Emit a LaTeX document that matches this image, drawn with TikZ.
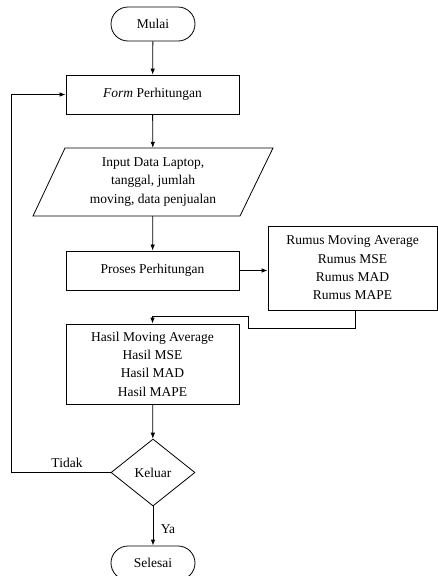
\documentclass[tikz,border=0pt]{standalone}
\usepackage{fontspec}
\setmainfont{Liberation Serif}
\usetikzlibrary{shapes.geometric,arrows.meta}
\begin{document}
\begin{tikzpicture}[x=1pt,y=-1pt,
  every node/.style={font=\fontsize{13.5}{18.3}\selectfont, inner sep=0pt, align=center},
  box/.style={draw, line width=0.8pt, minimum width=173pt},
  term/.style={draw, line width=0.8pt, rounded corners=17pt, minimum width=84pt, minimum height=34pt},
  conn/.style={line width=0.8pt, -{Latex[length=6pt,width=4.5pt]}},
  plain/.style={line width=0.8pt}]
\useasboundingbox (0,0) rectangle (438,576);
\node[term] (mulai) at (153,24) {Mulai};
\node[box, minimum height=39pt] (form) at (152.5,94.5) {\textit{Form} Perhitungan};
\node[minimum width=175pt, minimum height=68pt] (input) at (153,182) {Input Data Laptop,\\tanggal, jumlah\\moving, data penjualan};
\draw[plain] (65,148) -- (273,148) -- (240,216) -- (33,216) -- cycle;
\node[box, minimum height=39pt] (proses) at (152.5,270.5) {Proses Perhitungan};
\node[draw, line width=0.8pt, minimum width=169pt, minimum height=84pt] (rumus) at (352.5,268) {Rumus Moving Average\\Rumus MSE\\Rumus MAD\\Rumus MAPE};
\node[box, minimum height=80pt] (hasil) at (152.5,364) {Hasil Moving Average\\Hasil MSE\\Hasil MAD\\Hasil MAPE};
\node[draw, diamond, line width=0.8pt, minimum width=84pt, minimum height=67pt] (keluar) at (153,472.5) {Keluar};
\node[term] (selesai) at (153,563) {Selesai};
\node (tidak) at (67,463) {Tidak};
\node (ya) at (168,529) {Ya};
\coordinate (r1) at (355,328);
\coordinate (r2) at (248,328);
\coordinate (r3) at (248,316);
\coordinate (r4) at (152.5,316);
\coordinate (lp) at (11,472.5);
\draw[conn] (mulai) -- (form);
\draw[conn] (form) -- (input);
\draw[conn] (input) -- (proses);
\draw[conn] (proses.east) -- (proses.east -| rumus.west);
\draw[plain] (rumus.south -| r1) -- (r1) -- (r2) -- (r3) -- (r4);
\draw[conn] (r4) -- (hasil.north);
\draw[conn] (hasil) -- (keluar);
\draw[conn] (keluar) -- (selesai);
\draw[conn] (keluar.west) -- (lp) |- (form.west);
\end{tikzpicture}
\end{document}
